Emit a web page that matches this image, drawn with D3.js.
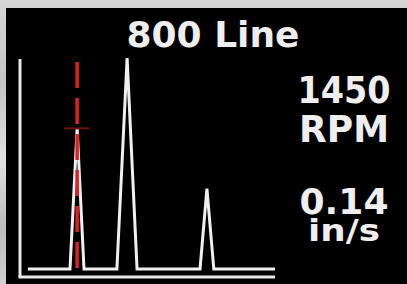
<!DOCTYPE html>
<html>
<head>
<meta charset="utf-8">
<script src="https://cdn.jsdelivr.net/npm/d3@7"></script>
<style>
  html, body { margin: 0; padding: 0; background: #000; }
  svg { display: block; }
</style>
</head>
<body>
<div id="chart"></div>
<script>
// Spectrum readout (800 line)

// Data
var title = "800 Line";
var speedLabel = ["1450", "RPM"];
var ampLabel = ["0.14", "in/s"];

// spectrum points: frequency (arbitrary line units 0-100) and amplitude (in/s)
var freq = [3.1, 19.6, 22.4, 25.1, 38.0, 42.0, 45.9, 70.6, 73.3, 76.0, 100];
var amp  = [0,   0,    0.14, 0,    0,    0.21, 0,    0,    0.08, 0,    0];

var cursorFreq = 22.4;
var cursorAmp = 0.14;

// Chart area
var svgWidth = 407;
var svgHeight = 284;

var svg = d3.select("#chart")
  .append("svg")
  .attr("width", svgWidth)
  .attr("height", svgHeight);

// brushed metal frame
var defs = svg.append("defs");
var grad = defs.append("linearGradient")
  .attr("id", "metal")
  .attr("x1", 0).attr("y1", 0).attr("x2", 0).attr("y2", 1);
[["0%", "#d6d6d6"], ["30%", "#c4c4c4"], ["55%", "#e2e2e2"], ["80%", "#bcbcbc"], ["100%", "#d0d0d0"]]
  .forEach(function(s) {
    grad.append("stop").attr("offset", s[0]).attr("stop-color", s[1]);
  });

svg.append("rect")
  .attr("width", svgWidth)
  .attr("height", svgHeight)
  .attr("fill", "url(#metal)");

svg.append("rect")
  .attr("x", 6)
  .attr("y", 8)
  .attr("width", svgWidth - 6)
  .attr("height", svgHeight - 8)
  .attr("fill", "#000");

// scales
var xScale = d3.scaleLinear()
  .domain([0, 100])
  .range([20, 275]);

var yScale = d3.scaleLinear()
  .domain([0, 0.21])
  .range([269, 58]);

// axes frame lines
var axisColor = "#e8e8e8";
svg.append("line")
  .attr("x1", xScale(0)).attr("x2", xScale(0))
  .attr("y1", 59).attr("y2", 277)
  .attr("stroke", axisColor)
  .attr("stroke-width", 3);

svg.append("line")
  .attr("x1", xScale(0) - 1.5).attr("x2", xScale(100))
  .attr("y1", 277).attr("y2", 277)
  .attr("stroke", axisColor)
  .attr("stroke-width", 3);

// spectrum trace
var points = freq.map(function(f, i) { return [f, amp[i]]; });

var line = d3.line()
  .x(d => xScale(d[0]))
  .y(d => yScale(d[1]));

svg.append("path")
  .datum(points)
  .attr("d", line)
  .attr("fill", "none")
  .attr("stroke", "#f0f0f0")
  .attr("stroke-width", 3)
  .attr("stroke-linejoin", "miter");

// cursor
svg.append("line")
  .attr("x1", xScale(cursorFreq)).attr("x2", xScale(cursorFreq))
  .attr("y1", 62).attr("y2", 268)
  .attr("stroke", "#e02020")
  .attr("stroke-width", 3.5)
  .attr("stroke-dasharray", "26,10");

svg.append("line")
  .attr("x1", xScale(cursorFreq) - 13).attr("x2", xScale(cursorFreq) + 12)
  .attr("y1", yScale(cursorAmp)).attr("y2", yScale(cursorAmp))
  .attr("stroke", "#701010")
  .attr("stroke-width", 2);

// texts
var font = "'DejaVu Sans', sans-serif";

svg.append("text")
  .attr("x", 213)
  .attr("y", 47)
  .attr("text-anchor", "middle")
  .attr("font-family", font)
  .attr("font-weight", "bold")
  .attr("font-size", 36)
  .attr("fill", "#eeeeee")
  .text(title);

var readouts = [
  { t: speedLabel[0], y: 103, len: 93, size: 37 },
  { t: speedLabel[1], y: 142, len: 90, size: 37 },
  { t: ampLabel[0], y: 214, len: 89, size: 35 },
  { t: ampLabel[1], y: 241, len: 72, size: 31 }
];

readouts.forEach(function(r) {
  svg.append("text")
    .attr("x", 344)
    .attr("y", r.y)
    .attr("text-anchor", "middle")
    .attr("font-family", font)
    .attr("font-weight", "bold")
    .attr("font-size", r.size)
    .attr("textLength", r.len)
    .attr("lengthAdjust", "spacingAndGlyphs")
    .attr("fill", "#eeeeee")
    .text(r.t);
});
</script>
</body>
</html>
